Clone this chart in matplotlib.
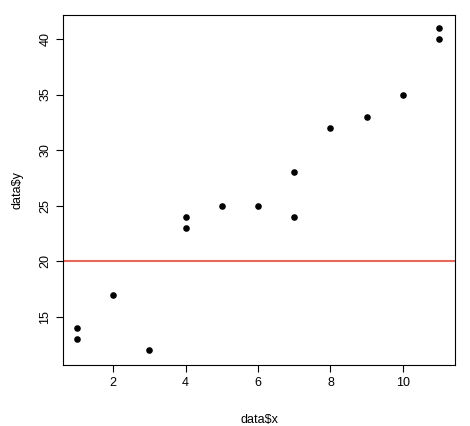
import matplotlib
matplotlib.use("Agg")
import matplotlib.pyplot as plt

x = [1, 1, 2, 3, 4, 4, 5, 6, 7, 7, 8, 9, 10, 11, 11]
y = [14, 13, 17, 12, 24, 23, 25, 25, 28, 24, 32, 33, 35, 41, 40]
hline = 20
xticks = [2, 4, 6, 8, 10]
yticks = [15, 20, 25, 30, 35, 40]

plt.rcParams['font.family'] = ['Liberation Sans', 'DejaVu Sans']
fig = plt.figure(figsize=(4.7, 4.26), dpi=100)
ax = fig.add_axes([63/470, 1-365/426, (455-63)/470, (365-15)/426])
ax.scatter(x, y, s=14, color='black', zorder=3)
ax.axhline(hline, color='#e8675a', lw=1.5)
ax.set_xlim(0.613, 11.44)
ax.set_ylim(10.68, 42.16)
ax.set_xticks(xticks)
ax.set_yticks(yticks)
ax.tick_params(labelsize=9, length=5)
for lab in ax.get_yticklabels():
    lab.set_rotation(90); lab.set_va('center')
ax.set_xlabel('data$x', fontsize=9, labelpad=18)
ax.set_ylabel('data$y', fontsize=9, labelpad=11)
fig.savefig('out.png', dpi=100)
